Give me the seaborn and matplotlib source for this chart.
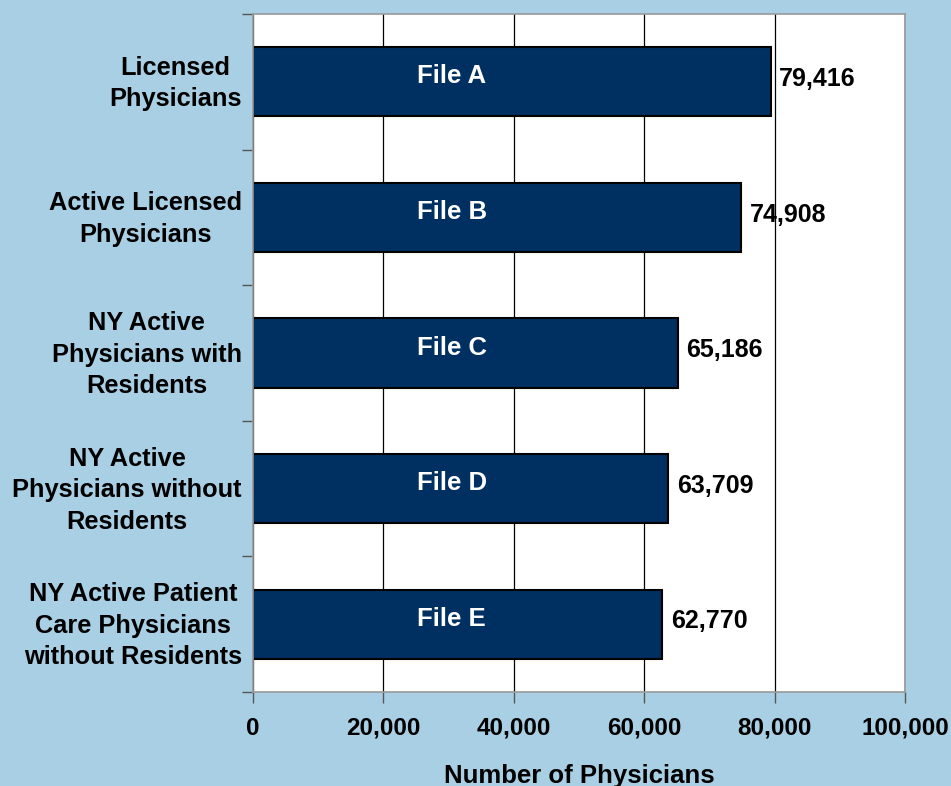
import matplotlib
matplotlib.use("Agg")
import matplotlib.pyplot as plt
import seaborn as sns
import pandas as pd
from matplotlib.ticker import FuncFormatter, MultipleLocator

categories = [
    "Licensed\nPhysicians",
    "Active Licensed\nPhysicians",
    "NY Active\nPhysicians with\nResidents",
    "NY Active\nPhysicians without\nResidents",
    "NY Active Patient\nCare Physicians\nwithout Residents",
]
files = ["File A", "File B", "File C", "File D", "File E"]
counts = [79416, 74908, 65186, 63709, 62770]

df = pd.DataFrame({"category": categories, "file": files, "count": counts})

sns.set_theme(style="white")
plt.rcParams["font.family"] = ["Liberation Sans", "DejaVu Sans"]
plt.rcParams["font.weight"] = "bold"

bg = "#a9cfe4"
bar_color = "#003062"

fig = plt.figure(figsize=(9.51, 7.86), dpi=100, facecolor=bg)
ax = fig.add_axes([253 / 951, 1 - 692 / 786, (905 - 253) / 951, (692 - 14) / 786])
ax.set_facecolor("white")

sns.barplot(data=df, y="category", x="count", orient="h", color=bar_color,
            width=0.51, edgecolor="black", linewidth=1.5, saturation=1, ax=ax)

ax.set_xlim(0, 100000)
ax.set_ylim(4.5, -0.5)
ax.xaxis.set_major_locator(MultipleLocator(20000))
ax.xaxis.set_major_formatter(FuncFormatter(lambda v, p: f"{int(v):,}"))
ax.grid(axis="x", color="black", linewidth=0.9)
ax.set_axisbelow(True)

# category names sit slightly above each band center; ticks mark the band boundaries
ax.set_yticks([i - 0.035 for i in range(len(categories))])
ax.set_yticklabels(categories, multialignment="center", linespacing=1.4)
ax.tick_params(axis="y", length=0, pad=8, labelsize=18.3)
ax.set_yticks([i - 0.5 for i in range(len(categories) + 1)], minor=True)
ax.tick_params(axis="y", which="minor", length=8, width=1, color="#555555", direction="out", left=True)
ax.tick_params(axis="x", length=8, width=1, color="#555555", direction="out", bottom=True,
               labelsize=17.5, pad=10)
for lab in ax.get_xticklabels() + ax.get_yticklabels():
    lab.set_fontweight("bold")
    lab.set_color("black")

for side in ["left", "bottom", "top", "right"]:
    ax.spines[side].set_color("#999999")
    ax.spines[side].set_linewidth(1.2)

ax.set_ylabel("")
ax.set_xlabel("Number of Physicians", fontsize=18.5, fontweight="bold", labelpad=17, color="black")

for i, (f, c) in enumerate(zip(files, counts)):
    ax.text(30500, i - 0.04, f, color="white", ha="center", va="center",
            fontsize=18.5, fontweight="bold")
    ax.text(c + 1300, i - 0.02, f"{c:,}", color="black", ha="left", va="center",
            fontsize=18, fontweight="bold")

fig.savefig("out.png", dpi=100, facecolor=bg)
